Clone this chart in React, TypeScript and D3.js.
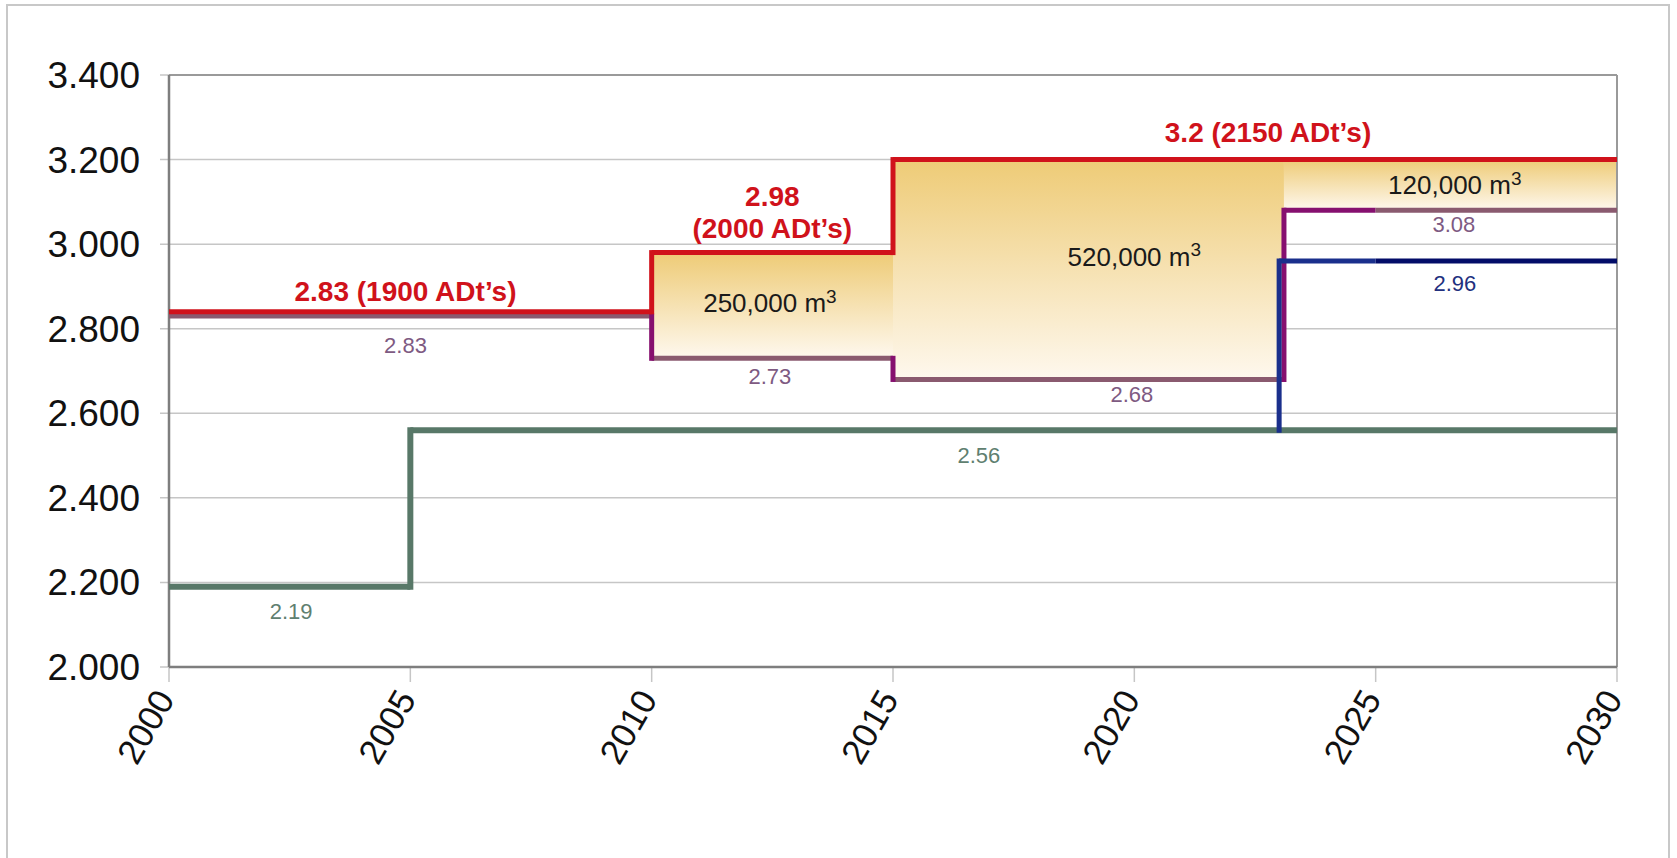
import React from "react";
import * as d3 from "d3";

const yearTicks = [2000, 2005, 2010, 2015, 2020, 2025, 2030];
const valueTicks = [2.0, 2.2, 2.4, 2.6, 2.8, 3.0, 3.2, 3.4];

// step series: value holds from year[i] until year[i+1]
const redYears = [2000, 2010, 2015, 2030];
const redValues = [2.84, 2.98, 3.2, 3.2];

const purpleYears = [2000, 2010, 2015, 2023.1, 2025, 2030];
const purpleValues = [2.83, 2.73, 2.68, 3.08, 3.08, 3.08];
const purpleTones = ["#8a5a6f", "#8a5a6f", "#8a5a6f", "#86106f", "#8a5a6f"];

const blueYears = [2023, 2023, 2025, 2030];
const blueValues = [2.56, 2.96, 2.96, 2.96];
const blueTones = ["#1a2f8c", "#1a2f8c", "#020c68"];

const greenYears = [2000, 2005, 2030];
const greenValues = [2.19, 2.56, 2.56];

// shaded volume blocks between the red and purple lines
const blockStart = [2010, 2015, 2023.1];
const blockEnd = [2015, 2023.1, 2030];
const blockTop = [2.98, 3.2, 3.2];
const blockBottom = [2.73, 2.68, 3.08];

const labels = [
  { text: "2.83 (1900 ADt’s)", year: 2004.9, value: 2.889, color: "#d0121b", size: 28, bold: true },
  { text: "2.98", year: 2012.5, value: 3.114, color: "#d0121b", size: 28, bold: true },
  { text: "(2000 ADt’s)", year: 2012.5, value: 3.038, color: "#d0121b", size: 28, bold: true },
  { text: "3.2 (2150 ADt’s)", year: 2022.77, value: 3.265, color: "#d0121b", size: 28, bold: true },
  { text: "2.83", year: 2004.9, value: 2.761, color: "#7e5a82", size: 22 },
  { text: "2.73", year: 2012.45, value: 2.688, color: "#7e5a82", size: 22 },
  { text: "2.68", year: 2019.95, value: 2.646, color: "#7e5a82", size: 22 },
  { text: "3.08", year: 2026.62, value: 3.048, color: "#7e5a82", size: 22 },
  { text: "2.96", year: 2026.64, value: 2.908, color: "#22307e", size: 22 },
  { text: "2.56", year: 2016.78, value: 2.501, color: "#5f8070", size: 22 },
  { text: "2.19", year: 2002.53, value: 2.132, color: "#5f8070", size: 22 },
];

const volumes = [
  { text: "250,000 m", year: 2012.45, value: 2.861 },
  { text: "520,000 m", year: 2020.0, value: 2.97 },
  { text: "120,000 m", year: 2026.64, value: 3.14 },
];

const W = 1677;
const H = 858;
const FONT = "'Liberation Sans', Arial, Helvetica, sans-serif";

const x = d3.scaleLinear().domain([2000, 2030]).range([169, 1617]);
const y = d3.scaleLinear().domain([2.0, 3.4]).range([667, 75]);

function steps(years: number[], values: number[]) {
  const hs = [] as { x0: number; x1: number; v: number; i: number }[];
  const vs = [] as { x: number; v0: number; v1: number }[];
  for (let i = 0; i < years.length - 1; i++) {
    if (years[i + 1] > years[i]) hs.push({ x0: years[i], x1: years[i + 1], v: values[i], i });
    if (values[i + 1] !== values[i]) vs.push({ x: years[i + 1], v0: values[i], v1: values[i + 1] });
  }
  return { hs, vs };
}

const seg = d3.line<[number, number]>().x((d) => x(d[0])).y((d) => y(d[1]));

const StepSeries = ({
  years, values, tones, vertColor, width,
}: { years: number[]; values: number[]; tones: string[]; vertColor: string; width: number }) => {
  const { hs, vs } = steps(years, values);
  return (
    <g>
      {hs.map((h, k) => (
        <path key={"h" + k} d={seg([[h.x0, h.v], [h.x1, h.v]]) || ""} stroke={tones[Math.min(h.i, tones.length - 1)]}
          strokeWidth={width} fill="none" />
      ))}
      {vs.map((v, k) => (
        <path key={"v" + k} d={seg([[v.x, v.v0], [v.x, v.v1]]) || ""} stroke={vertColor}
          strokeWidth={width} strokeLinecap="square" fill="none" />
      ))}
    </g>
  );
};

export default function App() {
  return (
    <svg width={W} height={H} style={{ position: "absolute", left: 0, top: 0, background: "#fff" }}
      fontFamily={FONT}>
      <defs>
        <linearGradient id="gold" x1="0" y1="0" x2="0" y2="1">
          <stop offset="0%" stopColor="#eecb76" />
          <stop offset="100%" stopColor="#fef8ee" />
        </linearGradient>
      </defs>
      <rect x={7} y={5} width={1662} height={H + 20} fill="#fff" stroke="#c8c8c8" strokeWidth={2} />

      {/* gridlines */}
      {valueTicks.map((v) => (
        <line key={v} x1={x(2000) - 9} x2={x(2030)} y1={y(v)} y2={y(v)} stroke="#c6c6c6" strokeWidth={1.5} />
      ))}
      {/* x tick marks */}
      {yearTicks.map((t) => (
        <line key={t} x1={x(t)} x2={x(t)} y1={y(2.0)} y2={y(2.0) + 15} stroke="#c6c6c6" strokeWidth={1.5} />
      ))}

      {/* volume blocks */}
      {blockStart.map((s, i) => (
        <rect key={i} x={x(s)} y={y(blockTop[i])} width={x(blockEnd[i]) - x(s)}
          height={y(blockBottom[i]) - y(blockTop[i])} fill="url(#gold)" />
      ))}

      {/* plot frame */}
      <line x1={x(2000)} x2={x(2030)} y1={y(3.4)} y2={y(3.4)} stroke="#9a9a9a" strokeWidth={2} />
      <line x1={x(2030)} x2={x(2030)} y1={y(3.4)} y2={y(2.0)} stroke="#9a9a9a" strokeWidth={2} />
      <line x1={x(2000)} x2={x(2000)} y1={y(3.4)} y2={y(2.0)} stroke="#7e7e7e" strokeWidth={2.5} />
      <line x1={x(2000)} x2={x(2030)} y1={y(2.0)} y2={y(2.0)} stroke="#7e7e7e" strokeWidth={2.5} />

      <StepSeries years={greenYears} values={greenValues} tones={["#587868"]} vertColor="#587868" width={6} />
      <StepSeries years={purpleYears} values={purpleValues} tones={purpleTones} vertColor="#86106f" width={5} />
      <StepSeries years={blueYears} values={blueValues} tones={blueTones} vertColor="#1a2f8c" width={5} />
      <StepSeries years={redYears} values={redValues} tones={["#d0121b"]} vertColor="#d0121b" width={5} />

      {/* y axis labels */}
      {valueTicks.map((v) => (
        <text key={v} x={140} y={y(v)} dy="0.35em" textAnchor="end" fontSize={37} fill="#111">
          {d3.format(".3f")(v)}
        </text>
      ))}
      {/* x axis labels */}
      {yearTicks.map((t) => (
        <text key={t} transform={`translate(${x(t) - 4},${y(2.0) + 26}) rotate(-60)`} textAnchor="end"
          dy="0.35em" fontSize={35} fill="#111">
          {t}
        </text>
      ))}

      {labels.map((l, i) => (
        <text key={i} x={x(l.year)} y={y(l.value)} dy="0.35em" textAnchor="middle" fontSize={l.size}
          fontWeight={l.bold ? "bold" : "normal"} fill={l.color}>
          {l.text}
        </text>
      ))}
      {volumes.map((v, i) => (
        <text key={i} x={x(v.year)} y={y(v.value)} dy="0.35em" textAnchor="middle" fontSize={26} fill="#1a1a1a">
          {v.text}
          <tspan fontSize={19} dy="-0.5em">3</tspan>
        </text>
      ))}
    </svg>
  );
}
